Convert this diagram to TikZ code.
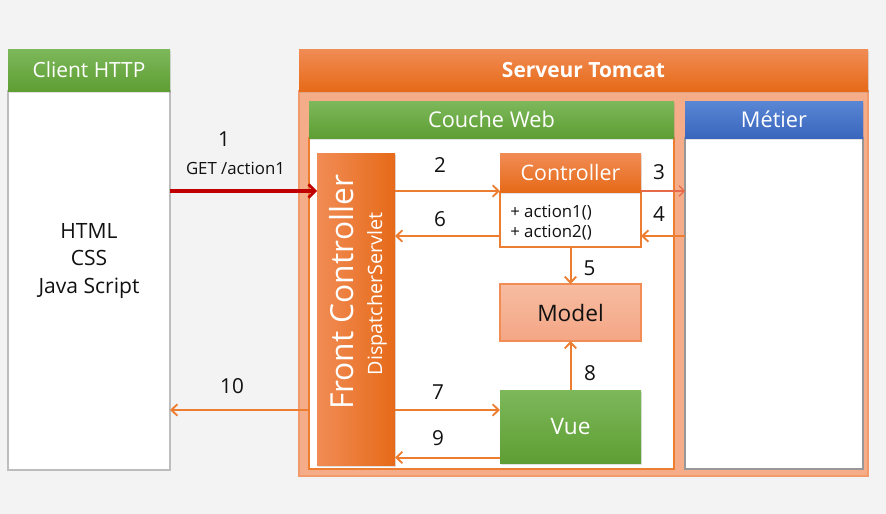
\documentclass[tikz,border=0pt]{standalone}
\usepackage{fontspec}
\setmainfont{Open Sans}
\usetikzlibrary{arrows.meta,shadows}
\definecolor{bgc}{HTML}{F3F3F3}
\definecolor{gtop}{HTML}{7DB85B}
\definecolor{gbot}{HTML}{5E9E33}
\definecolor{otop}{HTML}{F18C55}
\definecolor{obot}{HTML}{E66A18}
\definecolor{btop}{HTML}{5A86D5}
\definecolor{bbot}{HTML}{3A66BD}
\definecolor{salmon}{HTML}{F5AD89}
\definecolor{salmonline}{HTML}{F29A6C}
\definecolor{mtop}{HTML}{F7BCA2}
\definecolor{mbot}{HTML}{F4A684}
\definecolor{arrc}{HTML}{ED7D31}
\definecolor{thinc}{HTML}{E8694A}
\definecolor{redc}{HTML}{C00000}
\definecolor{grayline}{HTML}{BDBDBD}
\definecolor{txt}{HTML}{111111}
\tikzset{
  box/.style 2 args={minimum width=#1*0.75pt, minimum height=#2*0.75pt, inner sep=0pt, outer sep=0pt},
  hdrshadow/.style={drop shadow={opacity=0.22, shadow xshift=0.8pt, shadow yshift=-1.2pt}},
  greenhead/.style={top color=gtop, bottom color=gbot, draw=none, text=white, hdrshadow},
  orangehead/.style={top color=otop, bottom color=obot, draw=none, text=white, hdrshadow},
  bluehead/.style={top color=btop, bottom color=bbot, draw=none, text=white, hdrshadow},
  hfont/.style={font=\fontsize{15.7}{18}\selectfont},
  numlab/.style={font=\fontsize{15.5}{18}\selectfont, text=txt, inner sep=0pt},
  arr/.style={draw=arrc, line width=1.5pt, -{Straight Barb[length=4.5pt,width=8.5pt,line width=1.4pt]}},
  thinarr/.style={draw=thinc, line width=0.8pt, -{Straight Barb[length=4pt,width=8pt,line width=0.8pt]}},
  redarr/.style={draw=redc, line width=2.4pt, -{Straight Barb[length=5pt,width=10pt,line width=2pt]}},
}
\begin{document}
\begin{tikzpicture}[x=0.75pt,y=-0.75pt]
\fill[bgc] (0,0) rectangle (886,514);
\useasboundingbox (0,0) rectangle (886,514);

% Client
\node[box={162}{379}, fill=white, draw=grayline, line width=1.3pt] (clientbody) at (89,280.5) {};
\node[box={162}{42}, greenhead, hfont] (clienthead) at (89,70) {Client HTTP};
\node[align=center, text=txt, font=\fontsize{15.8}{20.6}\selectfont] (clienttext) at (89,261) {HTML\\CSS\\Java Script};

% Server
\node[box={569}{385}, fill=salmon, draw=salmonline, line width=0.8pt] (srvbody) at (583.5,283.5) {};
\node[box={569}{42}, orangehead, font=\bfseries\fontsize{15.7}{18}\selectfont] (srvhead) at (583.5,70) {Serveur Tomcat};

% Couche Web
\node[box={365}{331}, fill=white, draw=arrc, line width=0.8pt] (webbody) at (491.5,303.5) {};
\node[box={365}{37}, greenhead, font=\fontsize{16.3}{18}\selectfont] (webhead) at (491.5,119.5) {Couche Web};

% Metier
\node[box={178}{331}, fill=white, draw=grayline!80!black, line width=1pt] (metbody) at (774,303.5) {};
\node[box={178}{37}, bluehead, font=\fontsize{16.3}{18}\selectfont] (methead) at (774,119.5) {Métier};

% Front controller
\node[box={78}{312}, left color=otop, right color=obot, draw=none, drop shadow={opacity=0.25, shadow xshift=1pt, shadow yshift=-1.5pt}] (fc) at (356,309) {};
\node[rotate=90, text=white, font=\fontsize{23.8}{28}\selectfont, inner sep=0pt] (fctitle) at (342,292.5) {Front Controller};
\node[rotate=90, text=white, font=\fontsize{14.8}{18}\selectfont, inner sep=0pt] (fcsub) at (377,294) {DispatcherServlet};

% Controller
\node[box={141}{55}, fill=white, draw=arrc, line width=0.8pt] (ctrlbody) at (570.5,219.5) {};
\node[box={141}{39}, orangehead, font=\fontsize{16}{18}\selectfont] (ctrlhead) at (570.5,172.5) {Controller};
\node[anchor=west, align=left, text=txt, font=\fontsize{12.6}{15}\selectfont, inner sep=0pt] (ctrltext) at (510,223) {+ action1()\\+ action2()};

% Model
\node[box={141}{57}, top color=mtop, bottom color=mbot, draw=otop, line width=0.8pt, text=txt, font=\fontsize{17}{20}\selectfont] (model) at (570.5,312.5) {Model};

% Vue
\node[box={141}{73}, greenhead, font=\fontsize{17}{20}\selectfont] (vue) at (570.5,426.5) {Vue};

% helper coordinates for arrow levels
\coordinate (y1) at (0,191);
\coordinate (y6) at (0,236);
\coordinate (y7) at (0,410);
\coordinate (y9) at (0,457.5);

% Arrows
\draw[redarr] (clientbody.east |- y1) -- (fc.west |- y1);
\draw[arr] (fc.east |- y1) -- (ctrlhead.west |- y1);
\draw[thinarr] (ctrlhead.east |- y1) -- (metbody.west |- y1);
\draw[arr] (metbody.west |- y6) -- (ctrlbody.east |- y6);
\draw[arr] (ctrlbody.west |- y6) -- (fc.east |- y6);
\draw[arr] (ctrlbody.south) -- (model.north);
\draw[arr] (vue.north) -- (model.south);
\draw[arr] (fc.east |- y7) -- (vue.west |- y7);
\draw[arr] (vue.west |- y9) -- (fc.east |- y9);
\draw[arr] (webbody.west |- y7) -- (clientbody.east |- y7);

% Labels
\node[numlab] (l1) at (224,139.5) {1};
\node[text=txt, font=\fontsize{12.6}{14}\selectfont, inner sep=0pt] (lget) at (235.5,168) {GET /action1};
\node[numlab] (l2) at (440,165) {2};
\node[numlab] (l3) at (659,172) {3};
\node[numlab] (l4) at (659,214) {4};
\node[numlab] (l6) at (440,219) {6};
\node[numlab] (l5) at (589.5,268) {5};
\node[numlab] (l8) at (590,373) {8};
\node[numlab] (l7) at (438,392) {7};
\node[numlab] (l9) at (438,438) {9};
\node[numlab] (l10) at (232,386) {10};
\end{tikzpicture}
\end{document}
